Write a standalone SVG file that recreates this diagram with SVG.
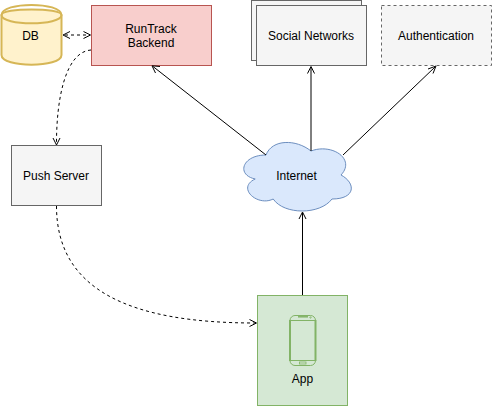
<svg xmlns="http://www.w3.org/2000/svg" width="492" height="406" viewBox="0 0 492 406">
<style>
text{font-family:"Liberation Sans",Arial,Helvetica,sans-serif;font-size:12px;fill:#000;text-anchor:middle}
.grey{fill:#f5f5f5;stroke:#666;stroke-width:1}
.c{fill:none;stroke:#000;stroke-width:1}
.d{stroke-dasharray:3 3}
.h{fill:none;stroke:#000;stroke-width:1}
</style>
<rect width="492" height="406" fill="#fff"/>
<g id="db">
<path d="M1.500 15C1.500 7.500 61.500 7.500 61.500 15V55C61.500 68 1.500 68 1.500 55Z" fill="#fff2cc" stroke="#d6b656" stroke-width="2"/>
<path d="M1.500 15C1.500 26 61.500 26 61.500 15" fill="none" stroke="#d6b656" stroke-width="2"/>
<path d="M1.500 15C1.500 1.500 61.500 1.500 61.500 15" fill="none" stroke="#d6b656" stroke-width="2"/>
<text x="30.500" y="40">DB</text>
</g>
<g id="backend">
<rect x="91.500" y="5.500" width="120" height="60" fill="#f8cecc" stroke="#b85450"/>
<text x="151" y="33">RunTrack</text>
<text x="151" y="47">Backend</text>
</g>
<g id="social">
<rect class="grey" x="251.500" y="0.500" width="110" height="60"/>
<rect class="grey" x="256.500" y="5.500" width="110" height="60"/>
<text x="311" y="40">Social Networks</text>
</g>
<g id="auth">
<rect class="grey" x="381.500" y="5.500" width="110" height="60" stroke-dasharray="3 3"/>
<text x="436" y="40">Authentication</text>
</g>
<g id="push">
<rect class="grey" x="11.500" y="145.500" width="90" height="60"/>
<text x="56" y="180">Push Server</text>
</g>
<g id="internet">
<path d="M266 155C242 155 236 175 255.200 179C236 187.800 257.600 207 273.200 199C284 215 320 215 332 199C356 199 356 183 341 175C356 159 332 143 311 151C296 139 272 139 266 155Z" fill="#dae8fc" stroke="#6c8ebf"/>
<text x="296.500" y="180">Internet</text>
</g>
<g id="app">
<rect x="257.500" y="295.500" width="90" height="110" fill="#d5e8d4" stroke="#82b366"/>
<g fill="none" stroke="#82b366">
<rect x="290" y="315.500" width="25.500" height="50" rx="5" stroke-width="1"/>
<path d="M290 320V361M315.500 320V361" stroke-width="2"/>
<path d="M290 320.500H315.500M290 360.500H315.500" stroke-width="1"/>
<path d="M298 316.800H308" stroke-width="1.500"/>
<circle cx="310.500" cy="317.500" r="0.700" stroke-width="0.800"/>
<rect x="299.500" y="362" width="6.500" height="2" stroke-width="0.800"/>
</g>
<text x="302.500" y="383">App</text>
</g>
<g id="connectors">
<path class="c" d="M266 155L153 66.500"/>
<path class="h" d="M160 66.500L152 65.800L155.500 73"/>
<path class="c" d="M311 151V67"/>
<path class="h" d="M307.500 73.500L311 66.500L314.500 73.500"/>
<path class="c" d="M343 155L435 67"/>
<path class="h" d="M428 69L436 66L433 73.500"/>
<path class="c" d="M302.500 295V213"/>
<path class="h" d="M299 219L302.500 212L306 219"/>
<path class="c d" d="M65 35H88"/>
<path class="h" d="M70 31.500L63 35L70 38.500M83.500 31.500L90.500 35L83.500 38.500"/>
<path class="c d" d="M91 50C65 52 56.500 100 56.500 143"/>
<path class="h" d="M53 138L56.500 145L60 138"/>
<path class="c d" d="M56.500 206C56.500 290 130 323 255 323"/>
<path class="h" d="M249.500 319.500L256.500 323L249.500 326.500"/>
</g>
</svg>
